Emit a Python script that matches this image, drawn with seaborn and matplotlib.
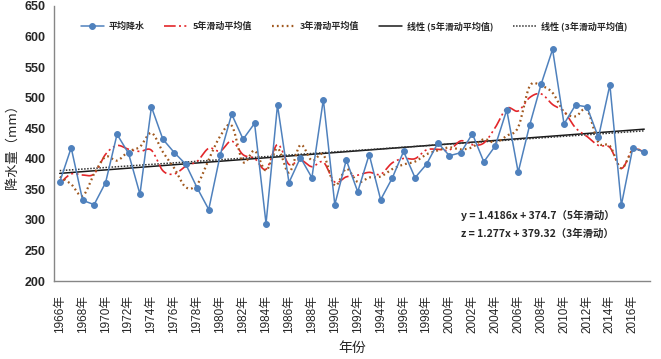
import numpy as np
import pandas as pd
import matplotlib
matplotlib.use("Agg")
import matplotlib.pyplot as plt
import seaborn as sns

# ---------------- data ----------------
years = list(range(1966, 2018))
precip = [362, 418, 332, 325, 361, 440, 409, 342, 485, 432,
          410, 391, 352, 317, 406, 473, 432, 458, 294, 488,
          361, 402, 369, 497, 325, 398, 346, 407, 333, 368,
          412, 369, 391, 426, 405, 410, 441, 395, 421, 480,
          378, 455, 522, 579, 457, 488, 485, 435, 521, 324,
          418, 411]
trend5 = [1.4186, 374.7]   # slope, intercept (5-yr moving average trend)
trend3 = [1.277, 379.32]   # slope, intercept (3-yr moving average trend)
tick_years = list(range(1966, 2017, 2))
tick_labels = [f"{y}年" for y in tick_years]
legend_labels = ["平均降水", "5年滑动平均值", "3年滑动平均值",
                 "线性 (5年滑动平均值)", "线性 (3年滑动平均值)"]
eq_texts = ["y = 1.4186x + 374.7（5年滑动）", "z = 1.277x + 379.32（3年滑动）"]


def forward_ma(vals, w):
    v = np.asarray(vals, float)
    return np.array([v[i:i + w].mean() for i in range(len(v))])


def smooth(x, y, n=20):
    x = np.asarray(x, float); y = np.asarray(y, float)
    P = np.column_stack([x, y])
    out = [P[0]]
    for i in range(len(P) - 1):
        p0 = P[i - 1] if i > 0 else P[i]
        p1, p2 = P[i], P[i + 1]
        p3 = P[i + 2] if i + 2 < len(P) else P[i + 1]
        c1 = p1 + (p2 - p0) / 6.0
        c2 = p2 - (p3 - p1) / 6.0
        t = np.linspace(0, 1, n + 1)[1:, None]
        seg = ((1 - t) ** 3) * p1 + 3 * ((1 - t) ** 2) * t * c1 + 3 * (1 - t) * t ** 2 * c2 + t ** 3 * p2
        out.extend(seg)
    out = np.array(out)
    return out[:, 0], out[:, 1]


ma5 = forward_ma(precip, 5)
ma3 = forward_ma(precip, 3)
idx = np.arange(1, len(years) + 1)
tr5 = trend5[0] * idx + trend5[1]
tr3 = trend3[0] * idx + trend3[1]

sns.set_theme(style="white")
plt.rcParams['font.family'] = ['Noto Sans CJK SC', 'DejaVu Sans']

fig = plt.figure(figsize=(6.61, 3.59), dpi=100)
ax = fig.add_axes([54 / 661, 78 / 359, 596 / 661, 275 / 359])

axis_col = "#868686"
blue = "#4F81BD"
red = "#E3262A"
brown = "#A0581E"

x5, y5 = smooth(years, ma5)
x3, y3 = smooth(years, ma3)

sns.lineplot(x=years, y=tr5, ax=ax, color="#1a1a1a", lw=1.1, label=legend_labels[3], zorder=2)
sns.lineplot(x=years, y=tr3, ax=ax, color="#333333", lw=1.1, ls=(0, (1, 1)), label=legend_labels[4], zorder=2)
sns.lineplot(x=x5, y=y5, ax=ax, color=red, lw=1.2, ls=(0, (7, 2, 1.2, 2, 1.2, 2)),
             label=legend_labels[1], sort=False, estimator=None, zorder=3)
sns.lineplot(x=x3, y=y3, ax=ax, color=brown, lw=1.6, ls=(0, (0.8, 1.4)),
             label=legend_labels[2], sort=False, estimator=None, zorder=3)
sns.lineplot(x=years, y=precip, ax=ax, color=blue, lw=1.1, marker="o", markersize=4.2,
             markeredgecolor=blue, label=legend_labels[0], zorder=4)

ax.set_xlim(1965.5, 2017.5)
ax.set_ylim(200, 650)
ax.set_yticks(range(200, 651, 50))
ax.set_xticks(tick_years)
ax.set_xticklabels(tick_labels, rotation=90, fontsize=8.5)
ax.set_xticks(np.arange(1970.5, 2017, 5), minor=True)
ax.tick_params(axis='x', which='major', length=0, pad=10)
ax.tick_params(axis='x', which='minor', length=4, direction='in', color=axis_col)
ax.tick_params(axis='y', length=4, direction='in', color=axis_col, labelsize=9, pad=6)
for lab in ax.get_yticklabels():
    lab.set_fontfamily(['Liberation Sans', 'DejaVu Sans'])
    lab.set_fontweight('bold')
for lab in ax.get_xticklabels():
    lab.set_fontfamily(['Liberation Sans', 'Noto Sans CJK SC'])
for s in ['top', 'right']:
    ax.spines[s].set_visible(False)
for s in ['left', 'bottom']:
    ax.spines[s].set_color(axis_col)
    ax.spines[s].set_linewidth(1.0)

ax.set_xlabel("年份", fontsize=10, labelpad=6)
ax.set_ylabel("降水量（mm）", fontsize=9.5, labelpad=4)

ax.text(2001.0, 308, eq_texts[0], fontsize=7.5, fontweight='bold', va='center')
ax.text(2001.0, 277, eq_texts[1], fontsize=7.5, fontweight='bold', va='center')

handles, labels = ax.get_legend_handles_labels()
order = [labels.index(l) for l in legend_labels]
ax.get_legend().remove()
fig.legend([handles[i] for i in order], [labels[i] for i in order], loc='center',
           bbox_to_anchor=(354 / 661, 1 - 26 / 359), ncol=5, frameon=False,
           handlelength=2.6, columnspacing=2.2, handletextpad=0.5,
           prop={'weight': 'bold', 'size': 6.5})

fig.savefig("out.png", dpi=100)
